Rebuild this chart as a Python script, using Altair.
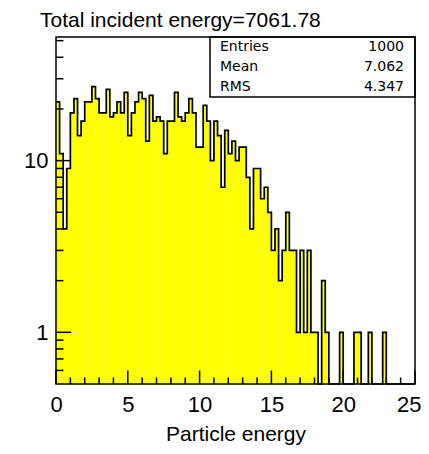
import altair as alt
import pandas as pd

# ---------------- data ----------------
title_text = "Total incident energy=7061.78"
x_title = "Particle energy"

bin_start = 0.0
bin_width = 0.25
counts = [22, 11, 4, 9, 19, 23, 14, 17, 22, 22,
          27, 23, 19, 19, 26, 18, 19, 22, 19, 25,
          14, 19, 22, 25, 23, 13, 24, 17, 18, 17,
          11, 17, 17, 25, 18, 17, 19, 23, 19, 12,
          12, 21, 17, 10, 17, 14, 7, 15, 11, 13,
          10, 12, 12, 8, 4, 9, 9, 6, 7, 5,
          3, 4, 2, 3, 5, 3, 3, 1, 3, 1,
          3, 1, 1, 0, 2, 1, 0, 0, 0, 1,
          0, 0, 0, 1, 1, 0, 0, 1, 0, 0,
          0, 1, 0, 0, 0, 0, 0, 0, 0, 0]

stat_names = ["Entries", "Mean", "RMS"]
stat_values = ["1000", "7.062", "4.347"]

x_domain = [0, 25]
y_domain = [0.5, 52.5]
x_major = [0, 5, 10, 15, 20, 25]
x_minor = [1, 2, 3, 4, 6, 7, 8, 9, 11, 12, 13, 14, 16, 17, 18, 19, 21, 22, 23, 24]
y_major = [1, 10]
y_minor = [0.6, 0.7, 0.8, 0.9, 2, 3, 4, 5, 6, 7, 8, 9, 20, 30, 40, 50]

# ---------------- layout / style ----------------
W, H = 359, 347
FONT = "Liberation Sans"
STAT_FONT = "DejaVu Sans"
YELLOW = "#ffff00"

n = len(counts)
lo = [bin_start + i * bin_width for i in range(n)]
hi = [v + bin_width for v in lo]
bins = pd.DataFrame({"lo": lo, "hi": hi, "n": counts})
filled = bins[bins["n"] > 0]

floor = y_domain[0]
outline = pd.DataFrame({
    "x": lo + [hi[-1]],
    "y": [max(c, floor) for c in counts] + [max(counts[-1], floor)],
})

xs = alt.Scale(domain=x_domain, nice=False, zero=False)
ys = alt.Scale(type="log", domain=y_domain, nice=False)

x_axis = alt.Axis(
    values=x_major, format="d", ticks=False, tickSize=0, domain=False, grid=False,
    labelFlush=False, labelFont=FONT, labelFontSize=22, labelColor="black",
    labelBaseline="alphabetic", labelPadding=27,
    labelAlign={"condition": {"test": "datum.value >= 25", "value": "right"}, "value": "center"},
    labelOffset={"condition": {"test": "datum.value >= 25", "value": 6}, "value": 0},
    title=x_title, titleFont=FONT, titleFontSize=21, titleFontWeight="normal",
    titleColor="black", titleBaseline="alphabetic", titleY=56,
)
y_axis = alt.Axis(
    values=y_major, format="d", ticks=False, tickSize=0, domain=False, grid=False,
    labelFont=FONT, labelFontSize=22, labelColor="black", labelPadding=8, title=None,
)

fill = alt.Chart(filled).mark_rect(color=YELLOW, stroke=YELLOW, strokeWidth=0.5).encode(
    x=alt.X("lo:Q", scale=xs, axis=x_axis),
    x2="hi:Q",
    y=alt.Y("n:Q", scale=ys, axis=y_axis),
    y2=alt.datum(floor),
)

line = alt.Chart(outline).mark_line(interpolate="step-after", color="black", strokeWidth=1.7).encode(
    x=alt.X("x:Q", scale=xs, axis=x_axis),
    y=alt.Y("y:Q", scale=ys, axis=y_axis),
)

def xticks(vals, length):
    return alt.Chart(pd.DataFrame({"v": vals})).mark_rule(color="black", strokeWidth=1.5).encode(
        x=alt.X("v:Q", scale=xs, axis=x_axis), y=alt.value(H), y2=alt.value(H - length))

def yticks(vals, length):
    return alt.Chart(pd.DataFrame({"v": vals})).mark_rule(color="black", strokeWidth=1.5).encode(
        y=alt.Y("v:Q", scale=ys, axis=y_axis), x=alt.value(0), x2=alt.value(length))

one = pd.DataFrame({"a": [0]})

box = alt.Chart(one).mark_rect(fill="white", stroke="black", strokeWidth=1.5).encode(
    x=alt.value(154), x2=alt.value(W), y=alt.value(0), y2=alt.value(60))

stat_layers = []
row_y = [14, 34, 54]
for name, val, yy in zip(stat_names, stat_values, row_y):
    stat_layers.append(
        alt.Chart(pd.DataFrame({"t": [name]})).mark_text(
            align="left", baseline="alphabetic", font=STAT_FONT, fontSize=14, color="black"
        ).encode(text="t:N", x=alt.value(164), y=alt.value(yy)))
    stat_layers.append(
        alt.Chart(pd.DataFrame({"t": [val]})).mark_text(
            align="right", baseline="alphabetic", font=STAT_FONT, fontSize=14, color="black"
        ).encode(text="t:N", x=alt.value(348), y=alt.value(yy)))

frame = alt.Chart(one).mark_rect(fillOpacity=0, stroke="black", strokeWidth=1.5).encode(
    x=alt.value(0), x2=alt.value(W), y=alt.value(0), y2=alt.value(H))

title = alt.Chart(pd.DataFrame({"t": [title_text]})).mark_text(
    align="left", baseline="alphabetic", font=FONT, fontSize=21, color="black"
).encode(text="t:N", x=alt.value(-16), y=alt.value(-10))

chart = alt.layer(
    fill, line,
    xticks(x_major, 13.5), xticks(x_minor, 6.5),
    yticks(y_major, 15), yticks(y_minor, 7.5),
    box, *stat_layers, frame, title,
).properties(
    width=W, height=H,
    autosize=alt.AutoSizeParams(type="none"),
    padding={"left": 48, "top": 29, "right": 6, "bottom": 62},
).configure(background="white").configure_view(stroke=None)

chart.save("out.html", embed_options={"renderer": "svg", "actions": False})
